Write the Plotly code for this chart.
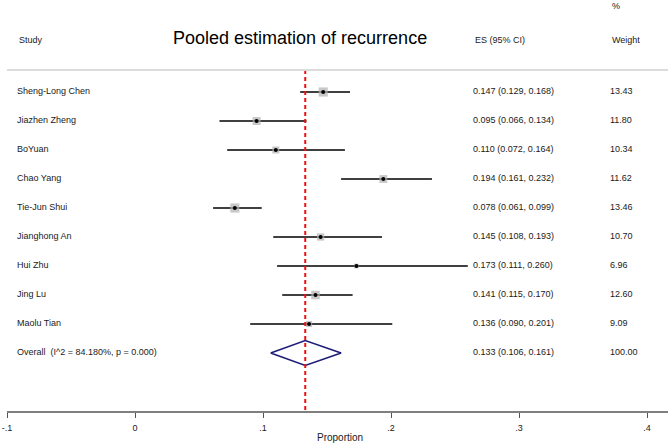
import plotly.graph_objects as go

studies = ["Sheng-Long Chen", "Jiazhen Zheng", "BoYuan", "Chao Yang", "Tie-Jun Shui",
           "Jianghong An", "Hui Zhu", "Jing Lu", "Maolu Tian"]
es = [0.147, 0.095, 0.110, 0.194, 0.078, 0.145, 0.173, 0.141, 0.136]
lo = [0.129, 0.066, 0.072, 0.161, 0.061, 0.108, 0.111, 0.115, 0.090]
hi = [0.168, 0.134, 0.164, 0.232, 0.099, 0.193, 0.260, 0.170, 0.201]
weights = [13.43, 11.80, 10.34, 11.62, 13.46, 10.70, 6.96, 12.60, 9.09]

overall_label = "Overall  (I^2 = 84.180%, p = 0.000)"
overall_es, overall_lo, overall_hi = 0.133, 0.106, 0.161
overall_weight = 100.00

tick_vals = [-0.1, 0, 0.1, 0.2, 0.3, 0.4]
tick_text = ["-.1", "0", ".1", ".2", ".3", ".4"]

# ---- layout helpers (page pixel -> figure coords) ----
W, H = 668, 444
PX_PER_UNIT = 1280.0
X0 = -0.1 - 7 / PX_PER_UNIT
X1 = X0 + W / PX_PER_UNIT
def xpx(px):
    return X0 + px / PX_PER_UNIT

ROW0_PX, ROW_STEP = 92.0, 29.0
AXIS_PX = 412
def ypx(py):
    return (py - ROW0_PX) / ROW_STEP

n = len(studies)
rows = list(range(n))
overall_row = n

FONT = "Liberation Sans, Arial, sans-serif"
TXT = "#1a1a1a"
fs = 9

fig = go.Figure()

# CI lines
cx, cy = [], []
for r, a, b in zip(rows, lo, hi):
    cx += [a, b, None]
    cy += [r, r, None]
fig.add_trace(go.Scatter(x=cx, y=cy, mode="lines", line=dict(color="black", width=1.7),
                         hoverinfo="skip", showlegend=False))

# weight boxes
fig.add_trace(go.Scatter(x=es, y=rows, mode="markers",
                         marker=dict(symbol="square", size=[0.68 * w for w in weights],
                                     color="#b0b0b0", line=dict(width=0)),
                         showlegend=False))
# point estimates
fig.add_trace(go.Scatter(x=es, y=rows, mode="markers",
                         marker=dict(symbol="circle", size=4, color="black"),
                         showlegend=False))

# overall diamond
dh = 0.43
fig.add_trace(go.Scatter(x=[overall_lo, overall_es, overall_hi, overall_es, overall_lo],
                         y=[overall_row, overall_row - dh, overall_row, overall_row + dh, overall_row],
                         mode="lines", line=dict(color="#1c1c78", width=1.6),
                         showlegend=False, hoverinfo="skip"))

# red dashed line at overall estimate
fig.add_trace(go.Scatter(x=[overall_es, overall_es], y=[ypx(70), ypx(AXIS_PX)],
                         mode="lines", line=dict(color="#ee1111", width=2, dash="4px,3px"),
                         showlegend=False, hoverinfo="skip"))

# text columns
all_rows = rows + [overall_row]
labels = studies + [overall_label]
es_text = [f"{e:.3f} ({a:.3f}, {b:.3f})" for e, a, b in zip(es, lo, hi)] + \
          [f"{overall_es:.3f} ({overall_lo:.3f}, {overall_hi:.3f})"]
w_text = [f"{w:.2f}" for w in weights] + [f"{overall_weight:.2f}"]

for xp, txt in [(17, labels), (473, es_text), (610, w_text)]:
    fig.add_trace(go.Scatter(x=[xpx(xp)] * len(all_rows), y=all_rows, mode="text",
                             text=txt, textposition="middle right",
                             textfont=dict(family=FONT, size=fs, color=TXT),
                             showlegend=False, hoverinfo="skip"))

# headers
headers = [(17, 40, "Study"), (473, 40, "ES (95% CI)"), (610, 40, "Weight"), (610, 6, "%")]
for xp, yp, t in headers:
    fig.add_annotation(x=xpx(xp), y=ypx(yp), text=t, showarrow=False, xanchor="left",
                       yanchor="middle", font=dict(family=FONT, size=fs, color=TXT))

# title
fig.add_annotation(x=xpx(300), y=ypx(38), text="Pooled estimation of recurrence", showarrow=False,
                   xanchor="center", yanchor="middle", font=dict(family=FONT, size=18, color="black"))

# top separator
fig.add_shape(type="line", x0=xpx(7), x1=X1, y0=ypx(70), y1=ypx(70),
              line=dict(color="#dcdcdc", width=2))
# x-axis line
fig.add_shape(type="line", x0=-0.1, x1=X1, y0=0, y1=0, xref="x", yref="paper",
              line=dict(color="#555555", width=1.5))

# axis title
fig.add_annotation(x=340 / W, y=(AXIS_PX - 437) / AXIS_PX, xref="paper", yref="paper",
                   text="Proportion", showarrow=False, xanchor="center", yanchor="middle",
                   font=dict(family=FONT, size=10, color=TXT))

fig.update_layout(
    width=W, height=H,
    margin=dict(l=0, r=0, t=0, b=H - AXIS_PX),
    plot_bgcolor="white", paper_bgcolor="white",
    xaxis=dict(range=[X0, X1], tickvals=tick_vals, ticktext=tick_text, ticks="outside",
               ticklen=5, tickwidth=1.2, tickcolor="#555555", showline=False, showgrid=False,
               zeroline=False, tickfont=dict(family=FONT, size=9, color=TXT),
               ticklabelstandoff=2, fixedrange=True),
    yaxis=dict(range=[ypx(AXIS_PX), ypx(0)], visible=False, showgrid=False, zeroline=False,
               fixedrange=True),
    showlegend=False,
)

fig.write_html("out.html", config={"displayModeBar": False},
               post_script="document.body.style.margin='0';document.body.style.overflow='hidden';")
